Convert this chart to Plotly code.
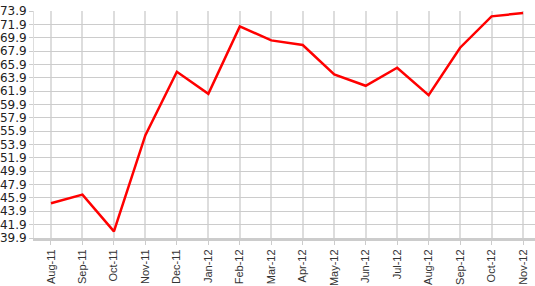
import plotly.graph_objects as go

months = ["Aug-11", "Sep-11", "Oct-11", "Nov-11", "Dec-11", "Jan-12", "Feb-12", "Mar-12",
          "Apr-12", "May-12", "Jun-12", "Jul-12", "Aug-12", "Sep-12", "Oct-12", "Nov-12"]
values = [45.1, 46.4, 40.9, 55.3, 64.8, 61.5, 71.6, 69.5,
          68.8, 64.4, 62.7, 65.4, 61.3, 68.4, 73.1, 73.6]
y_ticks = [39.9 + 2 * i for i in range(18)]
y_tick_labels = [f"{v:.1f}" for v in y_ticks]

x_idx = list(range(len(months)))

fig = go.Figure()
fig.add_trace(go.Scatter(x=x_idx, y=values, mode="lines",
                         line=dict(color="#ff0000", width=2.5), hoverinfo="skip"))

fig.update_layout(
    width=535, height=286,
    margin=dict(l=32, r=0, t=11, b=42),
    paper_bgcolor="white", plot_bgcolor="white",
    showlegend=False,
    xaxis=dict(
        range=[-0.54, 15.38],
        tickvals=x_idx, ticktext=months, tickangle=-90,
        showgrid=True, gridcolor="#dddddd", gridwidth=2,
        ticks="outside", ticklen=4, tickcolor="#cccccc",
        tickfont=dict(family="Liberation Sans, Arial", size=11, color="#333333"),
        showline=True, linecolor="#cccccc", linewidth=3,
        zeroline=False,
    ),
    yaxis=dict(
        range=[39.9, 73.9],
        tickvals=y_ticks, ticktext=y_tick_labels,
        showgrid=True, gridcolor="#cccccc", gridwidth=1,
        ticks="outside", ticklen=4, tickcolor="#cccccc",
        tickfont=dict(family="DejaVu Sans, Verdana", size=12, color="#222222"),
        showline=True, linecolor="#dddddd", linewidth=1,
        zeroline=False,
    ),
)

fig.write_html("out.html")
